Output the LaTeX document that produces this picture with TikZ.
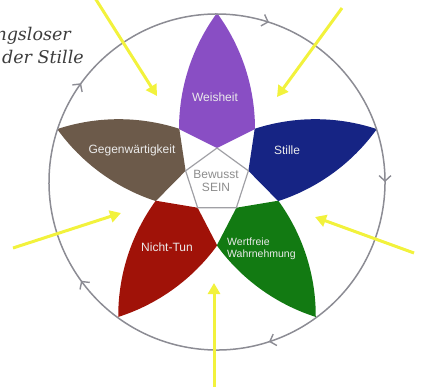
\documentclass[tikz,border=0pt]{standalone}
\usepackage{fontspec}
\setmainfont{Liberation Sans}
\newfontfamily\slabfont{DejaVu Serif}
\usetikzlibrary{arrows.meta,decorations.markings}
\definecolor{cPurple}{RGB}{137,78,196}
\definecolor{cBlue}{RGB}{22,36,132}
\definecolor{cBrown}{RGB}{108,90,74}
\definecolor{cRed}{RGB}{160,18,8}
\definecolor{cGreen}{RGB}{18,122,18}
\definecolor{cYellow}{RGB}{242,242,60}
\definecolor{cRing}{RGB}{140,140,148}
\definecolor{cPent}{RGB}{160,160,165}
\definecolor{cInner}{RGB}{140,140,140}
\definecolor{cQuote}{RGB}{60,60,60}
\tikzset{
  yarrow/.style={draw=cYellow, line width=3pt, -{Triangle[length=11pt,width=12pt]}},
  ring/.style={draw=cRing, line width=1.5pt},
  chev/.style={cRing, line width=1.4pt},
  pent/.style={draw=cPent, line width=1.2pt},
  lbl/.style={text=white!92!black, inner sep=0pt, font=\fontsize{12}{13}\selectfont},
  inner/.style={text=cInner, inner sep=0pt, align=center, font=\fontsize{12}{12.5}\selectfont},
  quote/.style={text=cQuote, inner sep=0pt, anchor=base east, font=\slabfont\itshape\fontsize{17.5}{20}\selectfont}
}
\begin{document}
\begin{tikzpicture}[x=1pt,y=1pt]
\useasboundingbox (0,-391) rectangle (422,0);
\coordinate (C) at (217,-181);
\coordinate (R) at (217,-182);
% petals
\foreach \a/\c in {90/cPurple,162/cBrown,234/cRed,306/cGreen,18/cBlue}{
  \begin{scope}[shift={(C)},rotate=\a-90]
    \fill[\c] (0,33) -- (38,52) .. controls (38,93.7) and (24.7,134.4) .. (0,168)
      .. controls (-24.7,134.4) and (-38,93.7) .. (-38,52) -- cycle;
  \end{scope}
}
% inner pentagon
\begin{scope}[shift={(C)}]
  \draw[pent] (90:33) -- (162:33) -- (234:33) -- (306:33) -- (18:33) -- cycle;
\end{scope}
% outer ring with clockwise chevrons
\draw[ring, postaction={decorate}, decoration={markings,
   mark=at position 0.1 with {\arrow[chev]{Straight Barb[length=5.5pt,width=12pt]}},
   mark=at position 0.3 with {\arrow[chev]{Straight Barb[length=5.5pt,width=12pt]}},
   mark=at position 0.5 with {\arrow[chev]{Straight Barb[length=5.5pt,width=12pt]}},
   mark=at position 0.7 with {\arrow[chev]{Straight Barb[length=5.5pt,width=12pt]}},
   mark=at position 0.9 with {\arrow[chev]{Straight Barb[length=5.5pt,width=12pt]}}}]
  ([shift={(36:168)}]R) arc[start angle=36, end angle=-324, radius=168];
% labels
\node[lbl] (wei) at (215,-97) {Weisheit};
\node[lbl] (sti) at (287,-150) {Stille};
\node[lbl] (geg) at (132,-150) {Gegenwärtigkeit};
\node[lbl] (nic) at (167,-247) {Nicht-Tun};
\node[lbl, anchor=west, align=left, font=\fontsize{10.5}{12}\selectfont] (wer) at (227,-249) {Wertfreie\\Wahrnehmung};
\node[inner] (bew) at (216,-181) {Bewusst\\SEIN};
% quote text
\node[quote] (q1) at (71,-40) {ngsloser};
\node[quote] (q2) at (84,-63) {der Stille};
% yellow arrows
\coordinate (y1s) at (95,2);   \coordinate (y1e) at (157,-96);
\coordinate (y2s) at (342,-8); \coordinate (y2e) at (277,-97);
\coordinate (y3s) at (13,-248); \coordinate (y3e) at (121,-213);
\coordinate (y4s) at (414,-253); \coordinate (y4e) at (315,-217);
\coordinate (y5s) at (214,-387); \coordinate (y5e) at (214,-283);
\foreach \i in {1,...,5}{\draw[yarrow] (y\i s) -- (y\i e);}
\end{tikzpicture}
\end{document}
